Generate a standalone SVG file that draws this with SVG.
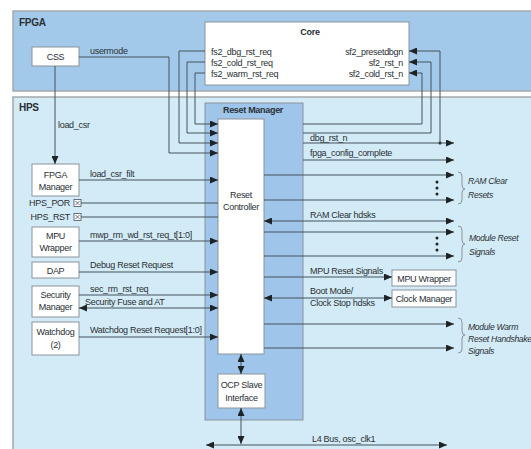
<svg xmlns="http://www.w3.org/2000/svg" width="531" height="449" viewBox="0 0 531 449">
<style>
text{font-family:"Liberation Sans",Arial,sans-serif;font-size:9px;fill:#2a2f33;letter-spacing:-0.3px}
.b{font-weight:bold}
.c{text-anchor:middle}
.r{text-anchor:end}
.i{font-style:italic;font-size:8.6px}
.box{fill:#fff;stroke:#8a949c;stroke-width:1}
.ln{fill:none;stroke:#45525c;stroke-width:1}
.br{fill:none;stroke:#8a949c;stroke-width:1}
</style>
<defs>
<marker id="a" markerUnits="userSpaceOnUse" markerWidth="8" markerHeight="7" refX="8" refY="3.5" orient="auto-start-reverse"><path d="M0,0 L8,3.5 L0,7 z" fill="#1e2326"/></marker>
</defs>
<rect width="531" height="449" fill="#fff"/>
<g id="fpga">
<rect x="13" y="11" width="525" height="80" fill="#a3c9ea" stroke="#a5a9ad" stroke-width="1.5"/>
<text x="19" y="26" class="b" style="font-size:10px">FPGA</text>
</g>
<g id="hps">
<rect x="13" y="97" width="525" height="360" fill="#d3ebf6" stroke="#a5a9ad" stroke-width="1.5"/>
<text x="19" y="111" class="b" style="font-size:10px">HPS</text>
</g>
<g id="css">
<rect x="32" y="47" width="47" height="19" class="box"/>
<text x="55.5" y="60" class="c">CSS</text>
</g>
<g id="core">
<rect x="205" y="22" width="204" height="63" class="box"/>
<text x="310" y="35" class="c b">Core</text>
<text x="211" y="55">fs2_dbg_rst_req</text>
<text x="211" y="66">fs2_cold_rst_req</text>
<text x="211" y="77">fs2_warm_rst_req</text>
<text x="403" y="55" class="r">sf2_presetdbgn</text>
<text x="403" y="66" class="r">sf2_rst_n</text>
<text x="403" y="77" class="r">sf2_cold_rst_n</text>
</g>
<g id="reset-manager">
<rect x="205" y="103" width="98" height="317" fill="#9fc6ea" stroke="#8a949c" stroke-width="1"/>
<text x="253" y="113" class="c b">Reset Manager</text>
<g id="reset-controller">
<rect x="218" y="119" width="46" height="235" class="box"/>
<text x="241" y="198" class="c">Reset</text>
<text x="241" y="210" class="c">Controller</text>
</g>
<g id="ocp">
<rect x="218" y="374" width="47" height="34" class="box"/>
<text x="241.5" y="388" class="c">OCP Slave</text>
<text x="241.5" y="401" class="c">Interface</text>
</g>
</g>
<g id="fpga-manager">
<rect x="32" y="164" width="47" height="32" class="box"/>
<text x="55.5" y="178" class="c">FPGA</text>
<text x="55.5" y="190" class="c">Manager</text>
</g>
<g id="hps-por">
<text x="70" y="206" class="r">HPS_POR</text>
<rect x="74" y="199.5" width="7" height="7" fill="#fff" stroke="#45525c" stroke-width="0.8"/>
<path d="M75.5,201 L79.5,205 M79.5,201 L75.5,205" stroke="#45525c" stroke-width="0.8"/>
</g>
<g id="hps-rst">
<text x="70" y="220" class="r">HPS_RST</text>
<rect x="74" y="213.5" width="7" height="7" fill="#fff" stroke="#45525c" stroke-width="0.8"/>
<path d="M75.5,215 L79.5,219 M79.5,215 L75.5,219" stroke="#45525c" stroke-width="0.8"/>
</g>
<g id="mpu-wrapper">
<rect x="32" y="227" width="47" height="30" class="box"/>
<text x="55.5" y="239" class="c">MPU</text>
<text x="55.5" y="251" class="c">Wrapper</text>
</g>
<g id="dap">
<rect x="32" y="262" width="47" height="16" class="box"/>
<text x="55.5" y="273.5" class="c">DAP</text>
</g>
<g id="security-manager">
<rect x="32" y="286" width="47" height="31" class="box"/>
<text x="55.5" y="298" class="c">Security</text>
<text x="55.5" y="310" class="c">Manager</text>
</g>
<g id="watchdog">
<rect x="32" y="322" width="47" height="33" class="box"/>
<text x="55.5" y="335" class="c">Watchdog</text>
<text x="55.5" y="348" class="c">(2)</text>
</g>
<g id="mpu-wrapper-out">
<rect x="392" y="270" width="64" height="16" class="box"/>
<text x="424" y="281.5" class="c">MPU Wrapper</text>
</g>
<g id="clock-manager">
<rect x="392" y="290" width="64" height="17" class="box"/>
<text x="424" y="301.5" class="c">Clock Manager</text>
</g>
<g id="connectors">
<path class="ln" d="M79,57 H169 V153 H218" marker-end="url(#a)"/>
<path class="ln" d="M205,51 H179 V143 H218" marker-end="url(#a)"/>
<path class="ln" d="M205,62 H187 V133 H218" marker-end="url(#a)"/>
<path class="ln" d="M205,73 H195 V124 H218" marker-end="url(#a)"/>
<path class="ln" d="M440,143 V51 H409" marker-end="url(#a)"/>
<path class="ln" d="M303,133 H431 V62 H409" marker-end="url(#a)"/>
<path class="ln" d="M303,124 H422 V73 H409" marker-end="url(#a)"/>
<circle cx="440" cy="143" r="1.6" fill="#1e2326"/>
<path class="ln" d="M55,66 V164" marker-end="url(#a)"/>
<path class="ln" d="M79,180 H218" marker-end="url(#a)"/>
<path class="ln" d="M81,203 H218"/>
<path class="ln" d="M81,217 H218"/>
<path class="ln" d="M79,241 H218" marker-end="url(#a)"/>
<path class="ln" d="M79,272 H218" marker-end="url(#a)"/>
<path class="ln" d="M79,295 H218" marker-end="url(#a)"/>
<path class="ln" d="M79,308 H218" marker-start="url(#a)" marker-end="url(#a)"/>
<path class="ln" d="M79,337 H218" marker-end="url(#a)"/>
<path class="ln" d="M303,143 H454" marker-end="url(#a)"/>
<path class="ln" d="M303,160 H454" marker-end="url(#a)"/>
<path class="ln" d="M264,175 H454" marker-end="url(#a)"/>
<path class="ln" d="M264,200 H454" marker-end="url(#a)"/>
<path class="ln" d="M264,221 H454" marker-start="url(#a)" marker-end="url(#a)"/>
<path class="ln" d="M264,232 H454" marker-end="url(#a)"/>
<path class="ln" d="M264,256 H454" marker-end="url(#a)"/>
<path class="ln" d="M264,277 H392" marker-end="url(#a)"/>
<path class="ln" d="M264,298 H392" marker-start="url(#a)" marker-end="url(#a)"/>
<path class="ln" d="M264,324 H454" marker-end="url(#a)"/>
<path class="ln" d="M264,348 H454" marker-end="url(#a)"/>
<path class="ln" d="M241,354 V374" marker-start="url(#a)" marker-end="url(#a)"/>
<path class="ln" d="M241,408 V444" marker-start="url(#a)" marker-end="url(#a)"/>
<path class="ln" d="M206,445 H447" stroke-width="2" marker-start="url(#a)" marker-end="url(#a)"/>
<g fill="#1e2326">
<circle cx="437" cy="182" r="1.5"/><circle cx="437" cy="188" r="1.5"/><circle cx="437" cy="194" r="1.5"/>
<circle cx="437" cy="238" r="1.5"/><circle cx="437" cy="244" r="1.5"/><circle cx="437" cy="250" r="1.5"/>
</g>
<path class="br" d="M458,172 Q462,172 462,176 V185 Q462,189 465,189 Q462,189 462,193 V200 Q462,204 458,204"/>
<path class="br" d="M458,226 Q462,226 462,230 V240 Q462,244 465,244 Q462,244 462,248 V258 Q462,262 458,262"/>
<path class="br" d="M458,318 Q462,318 462,322 V331 Q462,335 465,335 Q462,335 462,339 V349 Q462,353 458,353"/>
<text x="90" y="54">usermode</text>
<text x="58" y="128">load_csr</text>
<text x="90" y="177">load_csr_filt</text>
<text x="90" y="238">mwp_rm_wd_rst_req_t[1:0]</text>
<text x="90" y="268">Debug Reset Request</text>
<text x="90" y="292">sec_rm_rst_req</text>
<text x="85" y="305">Security Fuse and AT</text>
<text x="90" y="333">Watchdog Reset Request[1:0]</text>
<text x="310" y="141">dbg_rst_n</text>
<text x="310" y="156">fpga_config_complete</text>
<text x="310" y="218">RAM Clear hdsks</text>
<text x="310" y="274">MPU Reset Signals</text>
<text x="310" y="294">Boot Mode/</text>
<text x="310" y="306">Clock Stop hdsks</text>
<text x="468" y="184" class="i">RAM Clear</text>
<text x="468" y="198" class="i">Resets</text>
<text x="469" y="241" class="i">Module Reset</text>
<text x="469" y="255" class="i">Signals</text>
<text x="468" y="330" class="i">Module Warm</text>
<text x="468" y="342" class="i">Reset Handshake</text>
<text x="468" y="354" class="i">Signals</text>
<text x="312" y="442">L4 Bus, osc_clk1</text>
</g>
</svg>
